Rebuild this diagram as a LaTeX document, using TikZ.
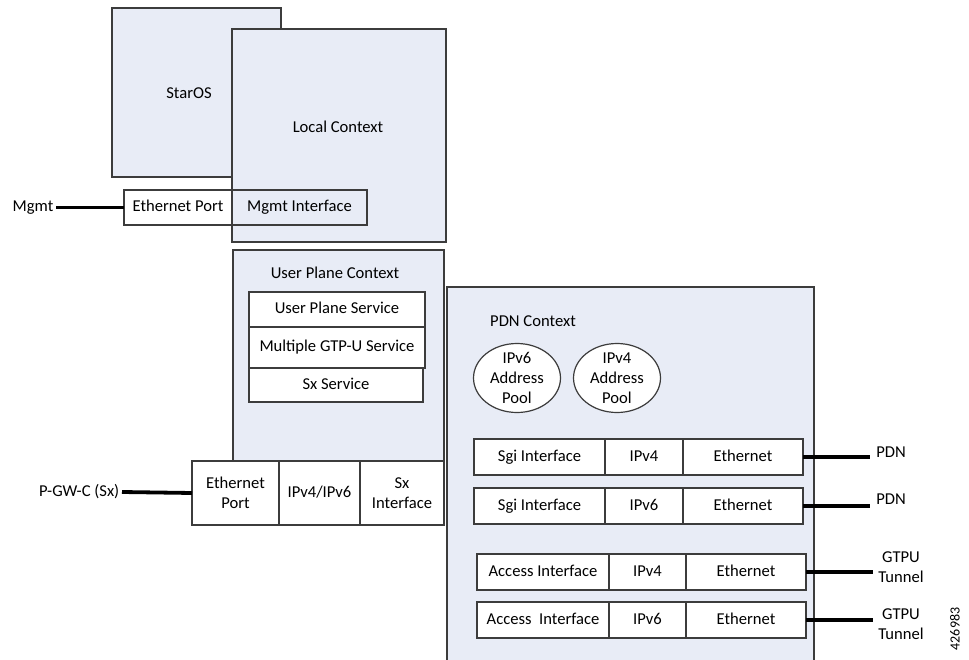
\documentclass[tikz,border=0pt]{standalone}
\usepackage{fontspec}
\setmainfont{Carlito}
\usetikzlibrary{shapes.geometric}
\definecolor{ctxfill}{RGB}{232,236,246}
\definecolor{edge}{RGB}{60,60,60}
\begin{document}
\begin{tikzpicture}[x=1pt,y=-1pt,
  every node/.style={font=\fontsize{16.6}{20}\selectfont, text=black},
  ctx/.style={draw=edge, fill=ctxfill, line width=1.2pt, inner sep=0pt, outer sep=0pt, anchor=north west},
  cell/.style={draw=edge, fill=white, line width=1.2pt, inner sep=0pt, outer sep=0pt, anchor=north west, align=center},
  one/.style={text height=11.5pt, text depth=3.5pt},
  clearcell/.style={cell, fill=none},
  pool/.style={ellipse, draw=edge, fill=white, line width=1.2pt, inner sep=0pt, minimum width=87pt, minimum height=69pt},
  wire/.style={line width=3.8pt, black},
  txt/.style={inner sep=1pt, align=center},
  lbl/.style={inner sep=2.5pt, text height=11.5pt, text depth=3.5pt}]
\useasboundingbox (0,0) rectangle (969,660);

% StarOS and Local Context
\node[ctx, minimum width=169pt, minimum height=169pt] (staros) at (112,8) {};
\node[txt] (starosl) at (189,93) {StarOS};
\node[ctx, minimum width=214pt, minimum height=213pt] (local) at (232,29) {};
\node[txt] (locall) at (338,127) {Local Context};

% Mgmt row
\node[clearcell, one, minimum width=108pt, minimum height=35pt] (ethport) at (124,190) {Ethernet Port};
\node[clearcell, one, minimum width=135pt, minimum height=35pt] (mgmtif) at (232,190) {Mgmt Interface};
\node[lbl, anchor=east] (mgmtl) at (56,207.5) {Mgmt};
\draw[wire] (mgmtl.east) -- (ethport.west);

% User Plane Context
\node[ctx, minimum width=211pt, minimum height=211pt] (upctx) at (233,250) {};
\node[txt] (upctxl) at (335,273) {User Plane Context};
\node[cell, one, minimum width=176pt, minimum height=35pt] (ups) at (249,292) {User Plane Service};
\node[cell, one, minimum width=176pt, minimum height=41pt] (mgtp) at (249,327) {Multiple GTP-U Service};
\node[cell, one, minimum width=174pt, minimum height=34pt] (sxs) at (249,368) {Sx Service};

\node[cell, minimum width=87pt, minimum height=64pt] (upeth) at (192,461) {Ethernet\\Port};
\node[cell, one, minimum width=81pt, minimum height=64pt] (upip) at (279,461) {IPv4/IPv6};
\node[cell, minimum width=84pt, minimum height=64pt] (upsx) at (360,461) {Sx\\Interface};
\node[lbl, anchor=east] (pgwl) at (122,492) {P-GW-C (Sx)};
\draw[wire] (pgwl.east) -- (upeth.west);

% PDN Context
\fill[ctxfill] (447,287) rectangle (814,662);
\draw[edge, line width=1.2pt] (447,662) -- (447,287) -- (814,287) -- (814,662);
\node[txt, anchor=west] (pdnl) at (489,321) {PDN Context};

\node[pool] (pool6) at (517,378) {};
\node[txt] (pool6l) at (517,378) {IPv6\\Address\\Pool};
\node[pool] (pool4) at (617,378) {};
\node[txt] (pool4l) at (617,378) {IPv4\\Address\\Pool};

% Sgi rows
\node[cell, one, minimum width=131pt, minimum height=36pt] (sgia) at (474,439) {Sgi Interface};
\node[cell, one, minimum width=78pt, minimum height=36pt] (sgiaip) at (605,439) {IPv4};
\node[cell, one, minimum width=120pt, minimum height=36pt] (sgiaeth) at (683,439) {Ethernet};
\node[cell, one, minimum width=131pt, minimum height=36pt] (sgib) at (474,488) {Sgi Interface};
\node[cell, one, minimum width=78pt, minimum height=36pt] (sgibip) at (605,488) {IPv6};
\node[cell, one, minimum width=120pt, minimum height=36pt] (sgibeth) at (683,488) {Ethernet};

% Access rows
\node[cell, one, minimum width=132pt, minimum height=36pt] (acca) at (477,554) {Access Interface};
\node[cell, one, minimum width=77pt, minimum height=36pt] (accaip) at (609,554) {IPv4};
\node[cell, one, minimum width=120pt, minimum height=36pt] (accaeth) at (686,554) {Ethernet};
\node[cell, one, minimum width=132pt, minimum height=36pt] (accb) at (477,602) {Access\ \ Interface};
\node[cell, one, minimum width=77pt, minimum height=36pt] (accbip) at (609,602) {IPv6};
\node[cell, one, minimum width=120pt, minimum height=36pt] (accbeth) at (686,602) {Ethernet};

% right wires and labels
\coordinate (w1) at (870,457);
\coordinate (w2) at (870,506);
\coordinate (w3) at (873,572);
\coordinate (w4) at (873,620);
\draw[wire] (sgiaeth.east) -- (w1);
\draw[wire] (sgibeth.east) -- (w2);
\draw[wire] (accaeth.east) -- (w3);
\draw[wire] (accbeth.east) -- (w4);
\node[txt] (pdn1) at (891,452) {PDN};
\node[txt] (pdn2) at (891,499) {PDN};
\node[txt] (gtpu1) at (901,567) {GTPU\\Tunnel};
\node[txt] (gtpu2) at (901,624) {GTPU\\Tunnel};

\node[txt, rotate=90, font=\fontsize{14}{16}\selectfont] (fignum) at (955,629) {426983};
\end{tikzpicture}
\end{document}
